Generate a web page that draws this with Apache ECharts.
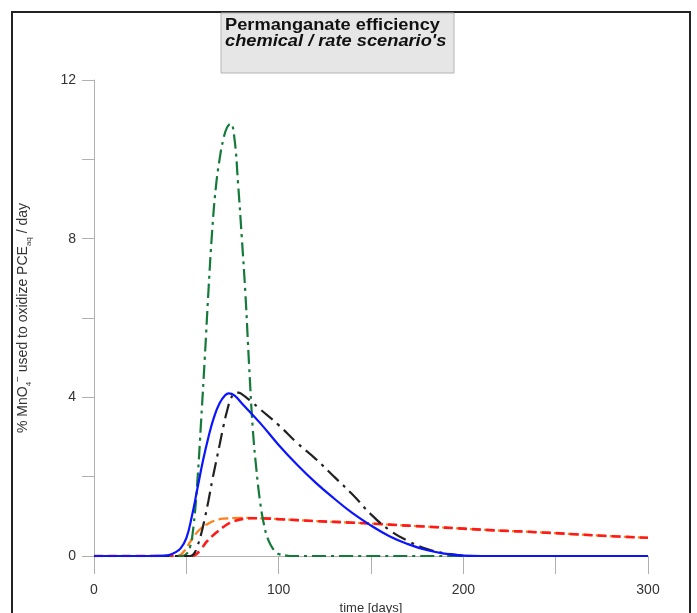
<!DOCTYPE html>
<html>
<head>
<meta charset="utf-8">
<script src="https://cdn.jsdelivr.net/npm/echarts@6/dist/echarts.min.js"></script>
<style>
html,body{margin:0;padding:0;background:#fff;overflow:hidden;}
#chart{width:697px;height:613px;}
</style>
</head>
<body>
<div id="chart"></div>
<script>
// ---- data ----
const xTicks = [0, 100, 200, 300];
const yTicks = [0, 4, 8, 12];

const blueT = [0, 30, 38, 41, 44, 47, 50, 53, 56, 59, 62, 65, 68, 71, 73, 76, 80, 90, 100, 110, 120, 130, 140, 150, 160, 170, 180, 190, 200, 210, 300];
const blueV = [0, 0, 0.01, 0.03, 0.09, 0.2, 0.45, 1.0, 1.7, 2.4, 3.0, 3.5, 3.85, 4.05, 4.1, 4.05, 3.85, 3.35, 2.8, 2.3, 1.85, 1.45, 1.08, 0.77, 0.5, 0.3, 0.15, 0.06, 0.01, 0, 0];

const blackT = [0, 52, 54, 56, 58, 60, 62, 64, 66, 68, 70, 72, 74, 76, 78, 80, 85, 90, 100, 110, 120, 130, 140, 150, 160, 170, 180, 190, 200, 205, 300];
const blackV = [0, 0, 0.05, 0.25, 0.55, 0.95, 1.4, 1.9, 2.35, 2.8, 3.25, 3.65, 3.95, 4.1, 4.12, 4.08, 3.9, 3.7, 3.3, 2.85, 2.45, 2.0, 1.55, 1.05, 0.65, 0.38, 0.18, 0.07, 0.01, 0, 0];

const greenT = [0, 48, 50, 52, 54, 56, 58, 60, 62, 64, 66, 68, 70, 72, 74, 76, 78, 80, 82, 84, 86, 88, 90, 92, 94, 96, 98, 100, 104, 106, 300];
const greenV = [0, 0, 0.05, 0.22, 0.8, 1.9, 3.4, 5.0, 6.7, 8.2, 9.3, 10.0, 10.5, 10.8, 10.9, 10.55, 9.4, 8.05, 6.6, 4.8, 3.2, 2.15, 1.35, 0.8, 0.45, 0.25, 0.12, 0.05, 0.01, 0, 0];

const orangeT = [0, 45, 48, 50, 52, 55, 58, 62, 66, 70, 80, 90, 100, 120, 140, 160, 180, 200, 220, 240, 260, 280, 300];
const orangeV = [0, 0, 0.08, 0.2, 0.35, 0.55, 0.7, 0.82, 0.9, 0.94, 0.96, 0.95, 0.93, 0.88, 0.84, 0.79, 0.74, 0.69, 0.64, 0.6, 0.55, 0.5, 0.46];

const redT = [0, 53, 55, 58, 61, 64, 67, 70, 73, 76, 80, 85, 90, 100, 120, 140, 160, 180, 200, 220, 240, 260, 280, 300];
const redV = [0, 0, 0.03, 0.18, 0.36, 0.5, 0.62, 0.73, 0.82, 0.88, 0.93, 0.95, 0.95, 0.93, 0.88, 0.84, 0.79, 0.74, 0.69, 0.64, 0.6, 0.55, 0.5, 0.46];

function pairs(t, v) { return t.map((x, i) => [x, v[i]]); }

const chart = echarts.init(document.getElementById('chart'), null, {renderer: 'canvas'});
const FONT = 'Liberation Sans, Arial, sans-serif';
const axisGray = '#b0b0b0';

function lineSeries(name, t, v, color, type, width, z) {
  return {
    name: name, type: 'line', data: pairs(t, v), showSymbol: false, symbol: 'none',
    smooth: 0.45, z: z,
    lineStyle: {color: color, width: width, type: type, cap: 'butt'},
    animation: false
  };
}

const option = {
  animation: false,
  grid: {left: 94, right: 49, top: 80, bottom: 57, containLabel: false, outerBoundsMode: 'none'},
  xAxis: {
    type: 'value', min: 0, max: 300, interval: 100,
    name: 'time [days]', nameLocation: 'middle', nameGap: 40,
    nameTextStyle: {fontFamily: FONT, fontSize: 13, color: '#333'},
    axisLine: {show: true, lineStyle: {color: axisGray, width: 1}},
    axisTick: {show: true, length: 18, lineStyle: {color: axisGray}},
    minorTick: {show: true, splitNumber: 2, length: 18, lineStyle: {color: axisGray}},
    axisLabel: {fontFamily: FONT, fontSize: 14, color: '#333', margin: 27,
      formatter: v => xTicks.includes(v) ? String(v) : ''},
    splitLine: {show: false}
  },
  yAxis: {
    type: 'value', min: 0, max: 12, interval: 4,
    name: '{n|% MnO}{sub|4}{sup|\u2212}{n| used to oxidize PCE}{sub|aq}{n| / day}',
    nameLocation: 'middle', nameGap: 61,
    nameTextStyle: {
      fontFamily: FONT, fontSize: 14, color: '#333',
      rich: {
        n: {fontFamily: FONT, fontSize: 14, color: '#333', lineHeight: 20},
        sub: {fontFamily: FONT, fontSize: 8, color: '#333', lineHeight: 8, verticalAlign: 'bottom'},
        sup: {fontFamily: FONT, fontSize: 10, color: '#333', lineHeight: 12, verticalAlign: 'top'}
      }
    },
    axisLine: {show: true, lineStyle: {color: axisGray, width: 1}},
    axisTick: {show: true, length: 12, lineStyle: {color: axisGray}},
    minorTick: {show: true, splitNumber: 2, length: 12, lineStyle: {color: axisGray}},
    axisLabel: {fontFamily: FONT, fontSize: 14, color: '#333', margin: 18,
      formatter: v => yTicks.includes(v) ? String(v) : ''},
    splitLine: {show: false}
  },
  series: [
    lineSeries('orange', orangeT, orangeV, '#ff7f1a', [10, 4], 2.2, 2),
    lineSeries('red', redT, redV, '#ff1a1a', [9, 5], 2.6, 3),
    lineSeries('green', greenT, greenV, '#137a3a', [14, 5, 3, 5], 2.2, 4),
    lineSeries('black', blackT, blackV, '#222222', [15, 6, 3, 6], 2.2, 5),
    lineSeries('blue', blueT, blueV, '#0a14ff', 'solid', 2.2, 6)
  ],
  graphic: [
    {type: 'rect', z: 100, silent: true,
      shape: {x: 12, y: 12, width: 678, height: 620},
      style: {fill: 'none', stroke: '#222', lineWidth: 2}},
    {type: 'rect', z: 101, silent: true,
      shape: {x: 221, y: 13, width: 233, height: 60},
      style: {fill: '#e6e6e6', stroke: '#b4b4b4', lineWidth: 1}},
    {type: 'text', z: 102, silent: true, x: 225, y: 26, scaleX: 1.14,
      style: {text: 'Permanganate efficiency', fontFamily: FONT, fontSize: 16, fontWeight: 'bold', fill: '#111', align: 'left', verticalAlign: 'middle'}},
    {type: 'text', z: 102, silent: true, x: 225, y: 42, scaleX: 1.14,
      style: {text: "chemical / rate scenario's", fontFamily: FONT, fontSize: 16, fontWeight: 'bold', fontStyle: 'italic', fill: '#111', align: 'left', verticalAlign: 'middle'}}
  ]
};
chart.setOption(option);
</script>
</body>
</html>
